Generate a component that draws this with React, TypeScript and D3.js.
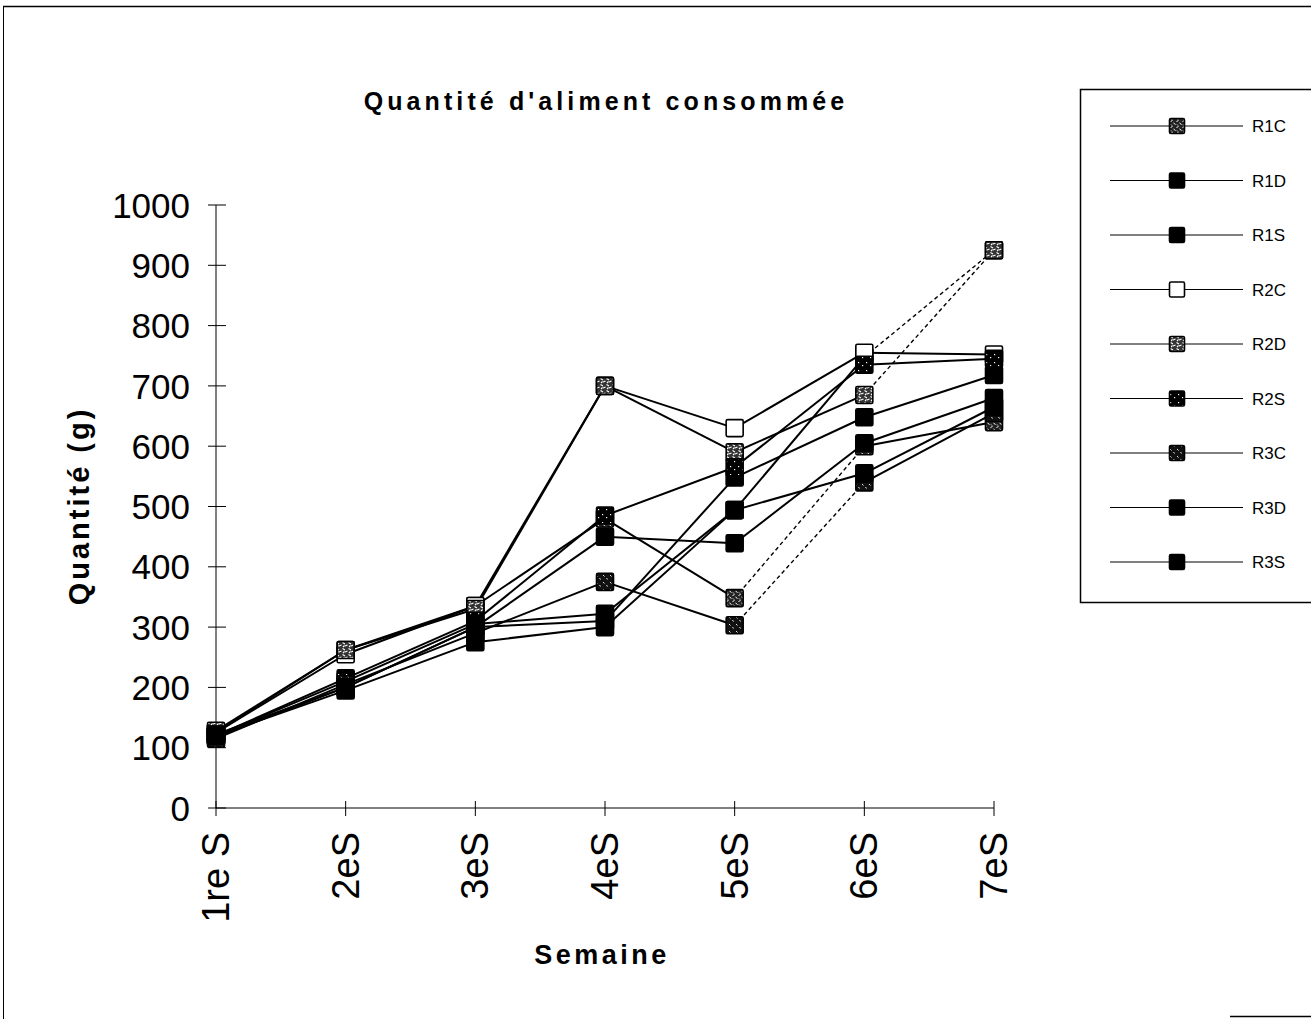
import React from "react";
import * as d3 from "d3";

// Weeks on the x axis
const weeks = ["1re S", "2eS", "3eS", "4eS", "5eS", "6eS", "7eS"];
const yTicks = [0, 100, 200, 300, 400, 500, 600, 700, 800, 900, 1000];

// Feed consumed per week (g) for each ration
const R1C = [125, 262, 335, 480, 348, 600, 640];
const R1D = [120, 210, 305, 322, 494, 748, 925];
const R1S = [118, 200, 300, 310, 548, 648, 718];
const R2C = [125, 255, 335, 700, 630, 755, 752];
const R2D = [128, 262, 330, 700, 590, 685, 925];
const R2S = [120, 215, 310, 485, 565, 735, 745];
const R3C = [115, 205, 290, 375, 303, 540, 655];
const R3D = [120, 195, 275, 300, 494, 555, 665];
const R3S = [122, 200, 300, 450, 439, 605, 680];

const seriesNames = ["R1C", "R1D", "R1S", "R2C", "R2D", "R2S", "R3C", "R3D", "R3S"];
const seriesValues = [R1C, R1D, R1S, R2C, R2D, R2S, R3C, R3D, R3S];

// marker fill per series
const markerFill: Record<string, string> = {
  R1C: "url(#patGrey)",
  R1D: "#000",
  R1S: "#000",
  R2C: "#fff",
  R2D: "url(#patLight)",
  R2S: "url(#patDots)",
  R3C: "url(#patDark)",
  R3D: "#000",
  R3S: "#000",
};

// segments (start index) drawn with a broken stroke
const brokenSegments: Record<string, number[]> = {
  R1C: [4],
  R1D: [5],
  R2D: [5],
  R3C: [4],
};

const W = 1311;
const H = 1019;

export default function App() {
  const x = d3.scalePoint<string>().domain(weeks).range([216, 994]).padding(0);
  const y = d3.scaleLinear().domain([0, 1000]).range([808, 205]);
  const line = d3
    .line<[number, number]>()
    .x((d) => d[0])
    .y((d) => d[1]);

  const ms = 17;
  const legendY = d3.scalePoint<string>().domain(seriesNames).range([126, 562]);

  const marker = (name: string, cx: number, cy: number, size: number, key: string) => (
    <rect
      key={key}
      x={cx - size / 2}
      y={cy - size / 2}
      width={size}
      height={size}
      fill={markerFill[name]}
      stroke="#000"
      strokeWidth={1.6}
      rx={1.5}
    />
  );

  return (
    <svg
      width={W}
      height={H}
      style={{ position: "absolute", left: 0, top: 0, background: "#fff" }}
      fontFamily="Arial, 'Liberation Sans', Helvetica, sans-serif"
    >
      <defs>
        <pattern id="patGrey" patternUnits="userSpaceOnUse" width="6" height="6">
          <rect width="6" height="6" fill="#222" />
          <path d="M0.5 1.5 L2.5 0.5 M3.5 3 L5.5 4.5 M1 4.5 L2 5.5" stroke="#fff" strokeWidth="1" />
        </pattern>
        <pattern id="patLight" patternUnits="userSpaceOnUse" width="6" height="6">
          <rect width="6" height="6" fill="#333" />
          <path d="M0.5 0.5 L3 2 M3 4 L5.5 3 M1 5 L2.5 3.5" stroke="#fff" strokeWidth="1.1" />
        </pattern>
        <pattern id="patDark" patternUnits="userSpaceOnUse" width="7" height="7">
          <rect width="7" height="7" fill="#111" />
          <path d="M1 1 L2.5 2.5 M4.5 4 L5.5 5.5" stroke="#fff" strokeWidth="0.9" />
        </pattern>
        <pattern id="patDots" patternUnits="userSpaceOnUse" width="8" height="8">
          <rect width="8" height="8" fill="#000" />
          <rect x="2" y="2" width="1.2" height="1.2" fill="#fff" />
          <rect x="6" y="5" width="1.2" height="1.2" fill="#fff" />
        </pattern>
      </defs>

      {/* outer frame */}
      <line x1={3} y1={6.5} x2={W} y2={6.5} stroke="#000" strokeWidth={1.5} />
      <line x1={3.5} y1={6} x2={3.5} y2={H} stroke="#000" strokeWidth={1} />
      <line x1={1230} y1={1016.5} x2={W} y2={1016.5} stroke="#000" strokeWidth={1.5} />

      {/* title */}
      <text x={606} y={110} textAnchor="middle" fontSize={25} fontWeight="bold" letterSpacing={4.1}>
        Quantité d'aliment consommée
      </text>

      {/* y axis */}
      <line x1={216} y1={y(1000)} x2={216} y2={y(0)} stroke="#000" strokeWidth={1} />
      {yTicks.map((t) => (
        <g key={"yt" + t}>
          <line x1={208} x2={226} y1={y(t)} y2={y(t)} stroke="#000" strokeWidth={1} />
          <text x={190} y={y(t)} dy="0.36em" textAnchor="end" fontSize={35}>
            {t}
          </text>
        </g>
      ))}

      {/* x axis */}
      <line x1={216} y1={y(0)} x2={994} y2={y(0)} stroke="#000" strokeWidth={1} />
      {weeks.map((w) => (
        <g key={"xt" + w}>
          <line x1={x(w)!} x2={x(w)!} y1={y(0) - 7} y2={y(0) + 8} stroke="#000" strokeWidth={1} />
          <text
            transform={`translate(${x(w)! + 13},832) rotate(-90)`}
            textAnchor="end"
            fontSize={38}
          >
            {w}
          </text>
        </g>
      ))}

      {/* axis titles */}
      <text x={602} y={964} textAnchor="middle" fontSize={27} fontWeight="bold" letterSpacing={3.5}>
        Semaine
      </text>
      <text
        transform="translate(89,506) rotate(-90)"
        textAnchor="middle"
        fontSize={29}
        fontWeight="bold"
        letterSpacing={3}
      >
        Quantité (g)
      </text>

      {/* series lines */}
      {seriesNames.map((name, si) => {
        const vals = seriesValues[si];
        const broken = brokenSegments[name] || [];
        return (
          <g key={"l" + name}>
            {vals.slice(0, -1).map((v, i) => {
              const p0: [number, number] = [x(weeks[i])!, y(v)];
              const p1: [number, number] = [x(weeks[i + 1])!, y(vals[i + 1])];
              const isBroken = broken.includes(i);
              return (
                <path
                  key={i}
                  d={line([p0, p1])!}
                  fill="none"
                  stroke="#000"
                  strokeWidth={isBroken ? 1.4 : 2}
                  strokeDasharray={isBroken ? "4 3" : undefined}
                />
              );
            })}
          </g>
        );
      })}

      {/* series markers */}
      {seriesNames.map((name, si) => (
        <g key={"m" + name}>
          {seriesValues[si].map((v, i) => marker(name, x(weeks[i])!, y(v), ms, name + i))}
        </g>
      ))}

      {/* legend */}
      <rect x={1080.5} y={89.5} width={240} height={513} fill="#fff" stroke="#000" strokeWidth={1.5} />
      {seriesNames.map((name) => {
        const ly = legendY(name)!;
        return (
          <g key={"lg" + name}>
            <line x1={1110} x2={1243} y1={ly} y2={ly} stroke="#000" strokeWidth={1} />
            {marker(name, 1177, ly, 15, "lm" + name)}
            <text x={1252} y={ly} dy="0.36em" fontSize={17}>
              {name}
            </text>
          </g>
        );
      })}
    </svg>
  );
}
